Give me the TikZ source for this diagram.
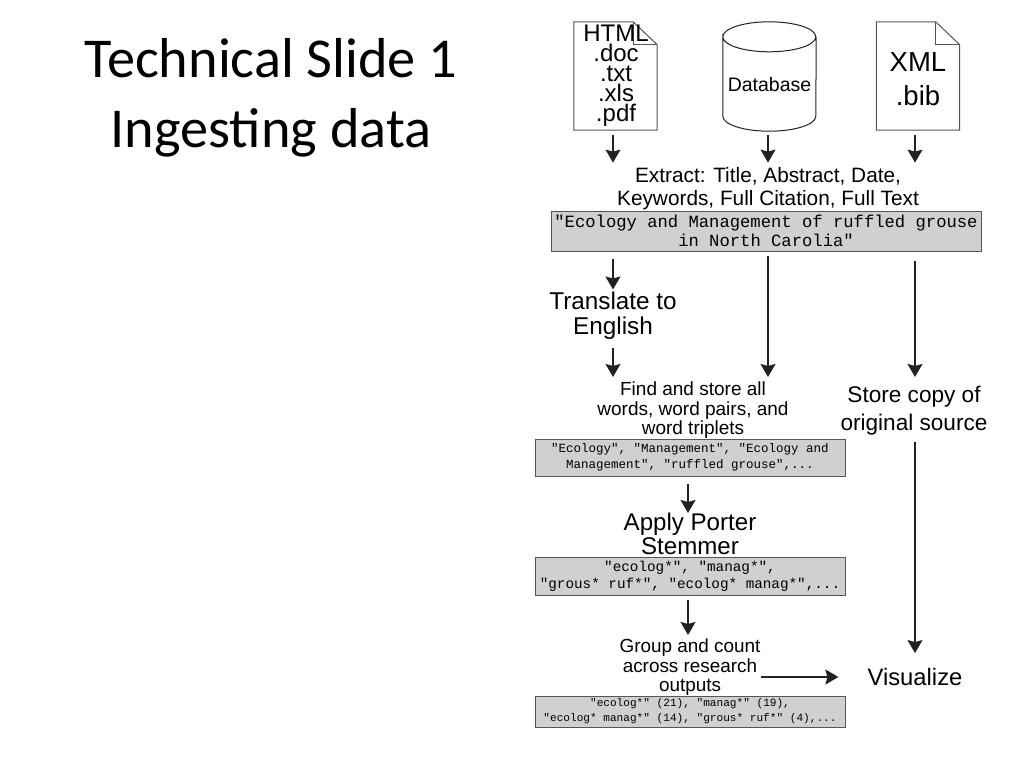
\documentclass[tikz,border=0pt]{standalone}
\usepackage{fontspec}
\setmainfont{Liberation Sans}
\setmonofont{Liberation Mono}
\newfontfamily\titlefont{Carlito}
\usetikzlibrary{arrows.meta, positioning, calc}

\definecolor{boxgray}{HTML}{D0D0D0}
\definecolor{boxline}{HTML}{555555}
\definecolor{inkline}{HTML}{222222}

\tikzset{
  flow/.style={-{Stealth[length=13pt,width=15pt,inset=2pt]}, line width=1.3pt, inkline},
  label/.style={inner sep=0pt, align=center, text=black},
  greybox/.style={draw=boxline, line width=1pt, fill=boxgray, inner sep=0pt, align=center},
  pagebox/.style={inner sep=0pt, minimum width=83pt, minimum height=108pt, align=center}
}
\newcommand{\sz}[2]{\fontsize{#1}{#2}\selectfont}
\newcommand{\foldpage}[1]{
  \draw[boxline, line width=1pt] ($(#1.north east)+(-24,0)$) -- (#1.north west) -- (#1.south west) -- (#1.south east) -- ($(#1.north east)+(0,23)$) -- cycle;
  \draw[boxline, line width=1pt] ($(#1.north east)+(-24,0)$) -- ($(#1.north east)+(-24,23)$) -- ($(#1.north east)+(0,23)$);
}

\begin{document}
\begin{tikzpicture}[x=1pt,y=-1pt]
  \useasboundingbox (0,0) rectangle (1024,768);

  % Title
  \node[label, font=\titlefont\sz{56.3}{70}] (title) at (271,98) {Technical Slide 1\\Ingesting data};

  % Sources
  \node[pagebox] (htmlfile) at (615.5,76) {};
  \foldpage{htmlfile}
  \node[label, font=\sz{24}{20}] (htmltext) at (616,76) {HTML\\.doc\\.txt\\.xls\\.pdf};
  \node[minimum width=93pt, minimum height=109pt, inner sep=0pt] (dbase) at (769.5,76.5) {};
  \draw[inkline, line width=1pt] ($(dbase.north west)+(0,15)$) arc[start angle=180, end angle=-180, x radius=46.5pt, y radius=15pt] -- ($(dbase.south west)+(0,-15)$) arc[start angle=180, end angle=360, x radius=46.5pt, y radius=15pt] -- ($(dbase.north east)+(0,15)$);
  \node[label, font=\sz{19.5}{23}] (dbtext) at (769.5,85) {Database};
  \node[pagebox] (xmlfile) at (918,76) {};
  \foldpage{xmlfile}
  \node[label, font=\sz{27.5}{34}] (xmltext) at (918,79) {XML\\.bib};

  % Arrow columns
  \coordinate (colA) at (613,0);
  \coordinate (colB) at (768,0);
  \coordinate (colC) at (915,0);
  \coordinate (colD) at (688,0);

  \node[label, font=\sz{20.8}{23}] (extract) at (768,189) {Extract: Title, Abstract, Date,\\Keywords, Full Citation, Full Text};
  \node[greybox, font=\ttfamily\sz{17.2}{19}, minimum width=430pt, minimum height=40pt] (titlebox) at (766,231) {"Ecology and Management of ruffled grouse\\in North Carolia"};

  \node[label, font=\sz{24.3}{25}] (translate) at (613,315.5) {Translate to\\English};
  \node[label, font=\sz{19}{19.5}] (findstore) at (693,410.5) {Find and store all\\words, word pairs, and\\word triplets};
  \node[label, font=\sz{22.6}{28}] (storecopy) at (914,411) {Store copy of\\original source};
  \node[greybox, font=\ttfamily\sz{12.5}{16}, minimum width=310pt, minimum height=37pt] (wordbox) at (690,457.5) {"Ecology", "Management", "Ecology and\\Management", "ruffled grouse",...};
  \node[label, font=\sz{24.1}{24}] (porter) at (690,534) {Apply Porter\\Stemmer};
  \node[greybox, font=\ttfamily\sz{14.3}{17}, minimum width=310pt, minimum height=38pt] (stembox) at (690,576) {"ecolog*", "manag*",\\"grous* ruf*", "ecolog* manag*",...};
  \node[label, font=\sz{18.9}{19.5}] (groupcount) at (690,667.5) {Group and count\\across research\\outputs};
  \node[greybox, font=\ttfamily\sz{11.1}{15}, minimum width=310pt, minimum height=31pt] (countbox) at (690,711.5) {"ecolog*" (21), "manag*" (19),\\"ecolog* manag*" (14), "grous* ruf*" (4),...};
  \node[label, font=\sz{23.8}{25}] (visualize) at (915,677) {Visualize};

  % Arrows
  \draw[flow, shorten <=5pt, shorten >=5pt] (colA |- htmlfile.south) -- (colA |- extract.north);
  \draw[flow, shorten <=4pt, shorten >=5pt] (colB |- dbase.south) -- (colB |- extract.north);
  \draw[flow, shorten <=5pt, shorten >=5pt] (colC |- xmlfile.south) -- (colC |- extract.north);
  \draw[flow, shorten <=7pt, shorten >=2pt] (colA |- titlebox.south) -- (colA |- translate.north);
  \draw[flow, shorten <=4pt, shorten >=5pt] (colB |- titlebox.south) -- (colB |- findstore.north);
  \draw[flow, shorten <=9pt, shorten >=5pt] (colC |- titlebox.south) -- (colC |- findstore.north);
  \draw[flow, shorten <=8pt, shorten >=5pt] (colA |- translate.south) -- (colA |- findstore.north);
  \draw[flow, shorten <=6pt, shorten >=15pt] (colC |- storecopy.south) -- (colC |- visualize.north);
  \draw[flow, shorten <=7pt, shorten >=0pt] (colD |- wordbox.south) -- (colD |- porter.north);
  \draw[flow, shorten <=4pt, shorten >=4pt] (colD |- stembox.south) -- (colD |- groupcount.north);
  \draw[flow, shorten >=29pt] (groupcount.east |- visualize.west) -- (visualize.west);
\end{tikzpicture}
\end{document}
